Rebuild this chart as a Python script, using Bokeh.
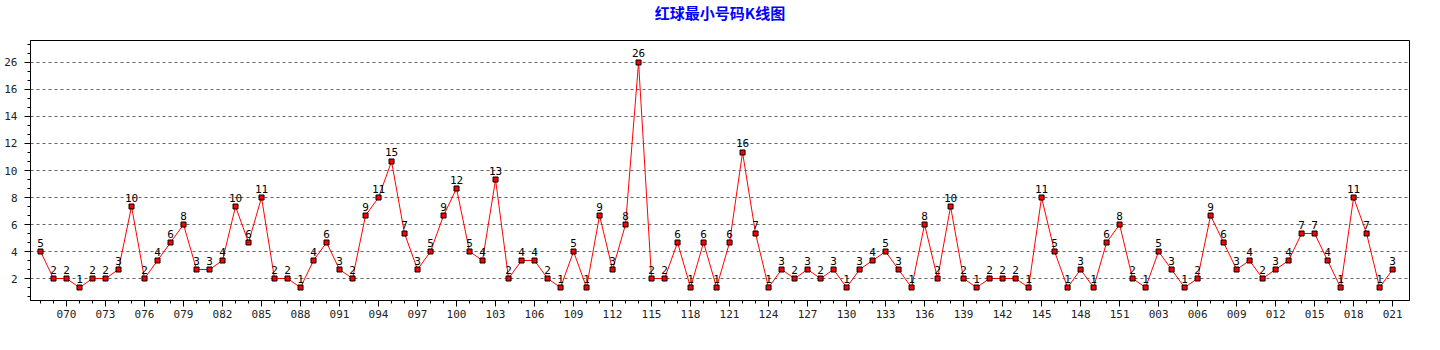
from bokeh.plotting import figure
from bokeh.models import Range1d, FixedTicker, ColumnDataSource, Div
from bokeh.layouts import column
from bokeh.core.properties import value
from bokeh.embed import file_html
from bokeh.resources import INLINE

title_text = "红球最小号码K线图"

periods_a = [f"{n:03d}" for n in range(68, 152)]
periods_b = [f"{n:03d}" for n in range(1, 22)]
periods = periods_a + periods_b

min_red = [5, 2, 2, 1, 2, 2, 3, 10, 2, 4, 6, 8, 3, 3, 4, 10,
           6, 11, 2, 2, 1, 4, 6, 3, 2, 9, 11, 15, 7, 3, 5, 9,
           12, 5, 4, 13, 2, 4, 4, 2, 1, 5, 1, 9, 3, 8, 26, 2,
           2, 6, 1, 6, 1, 6, 16, 7, 1, 3, 2, 3, 2, 3, 1, 3,
           4, 5, 3, 1, 8, 2, 10, 2, 1, 2, 2, 2, 1, 11, 5, 1, 3, 1, 6, 8,
           2, 1, 5, 3, 1, 2, 9, 6, 3, 4, 2, 3, 4, 7, 7, 4, 1, 11, 7, 1, 3]

y_tick_values = [2, 5, 8, 11, 14, 17, 20, 23, 26]
y_tick_labels = ["2", "4", "6", "8", "10", "12", "14", "16", "26"]

idx = list(range(len(periods)))
src = ColumnDataSource(dict(x=idx, y=min_red, label=[str(v) for v in min_red]))

p = figure(width=1440, height=311, output_backend="svg", toolbar_location=None,
           x_range=Range1d(-0.77, 105.3), y_range=Range1d(-0.444, 28.444),
           min_border_left=30, min_border_right=31, min_border_top=1, min_border_bottom=50)

p.outline_line_color = "black"
p.outline_line_width = 1
p.background_fill_color = "white"
p.border_fill_color = "white"

# x axis
major_x = [i for i in idx if (i - 2) % 3 == 0]
p.xaxis.ticker = FixedTicker(ticks=major_x, minor_ticks=idx)
p.xaxis.major_label_overrides = {i: periods[i] for i in major_x}
p.xaxis.major_tick_in = 0
p.xaxis.major_tick_out = 6
p.xaxis.minor_tick_in = 0
p.xaxis.minor_tick_out = 3
p.xaxis.major_label_standoff = 3
p.xaxis.axis_line_color = "black"
p.xaxis.major_label_text_font = "DejaVu Sans Mono"
p.xaxis.major_label_text_font_size = "11px"
p.xaxis.major_label_text_color = "#222222"

# y axis
p.yaxis.ticker = FixedTicker(ticks=y_tick_values, minor_ticks=list(range(0, 29)))
p.yaxis.major_label_overrides = {v: l for v, l in zip(y_tick_values, y_tick_labels)}
p.yaxis.major_tick_in = 0
p.yaxis.major_tick_out = 6
p.yaxis.minor_tick_in = 0
p.yaxis.minor_tick_out = 3
p.yaxis.major_label_standoff = 7
p.yaxis.axis_line_color = "black"
p.yaxis.major_label_text_font = "DejaVu Sans Mono"
p.yaxis.major_label_text_font_size = "11px"
p.yaxis.major_label_text_color = "#222222"

p.xgrid.grid_line_color = None
p.ygrid.grid_line_color = "#666666"
p.ygrid.grid_line_dash = "3 3"
p.ygrid.grid_line_width = 1

p.line("x", "y", source=src, line_color="red", line_width=1)
p.scatter("x", "y", source=src, marker="square", size=5, fill_color="red", line_color="black", line_width=1)
p.text("x", "y", text="label", source=src, text_align="center", text_baseline="bottom",
       y_offset=-5, text_font=value("DejaVu Sans Mono"), text_font_size="11px", text_color="black")

title = Div(text=title_text, width=1440, height=39,
            styles={"font-family": "Noto Sans CJK SC", "font-size": "15px", "font-weight": "bold",
                    "color": "#0000FF", "text-align": "center", "line-height": "26px",
                    "width": "1440px", "margin": "0", "padding": "0"})

layout = column(title, p, spacing=0)
open("out.html", "w").write(file_html(layout, INLINE))
